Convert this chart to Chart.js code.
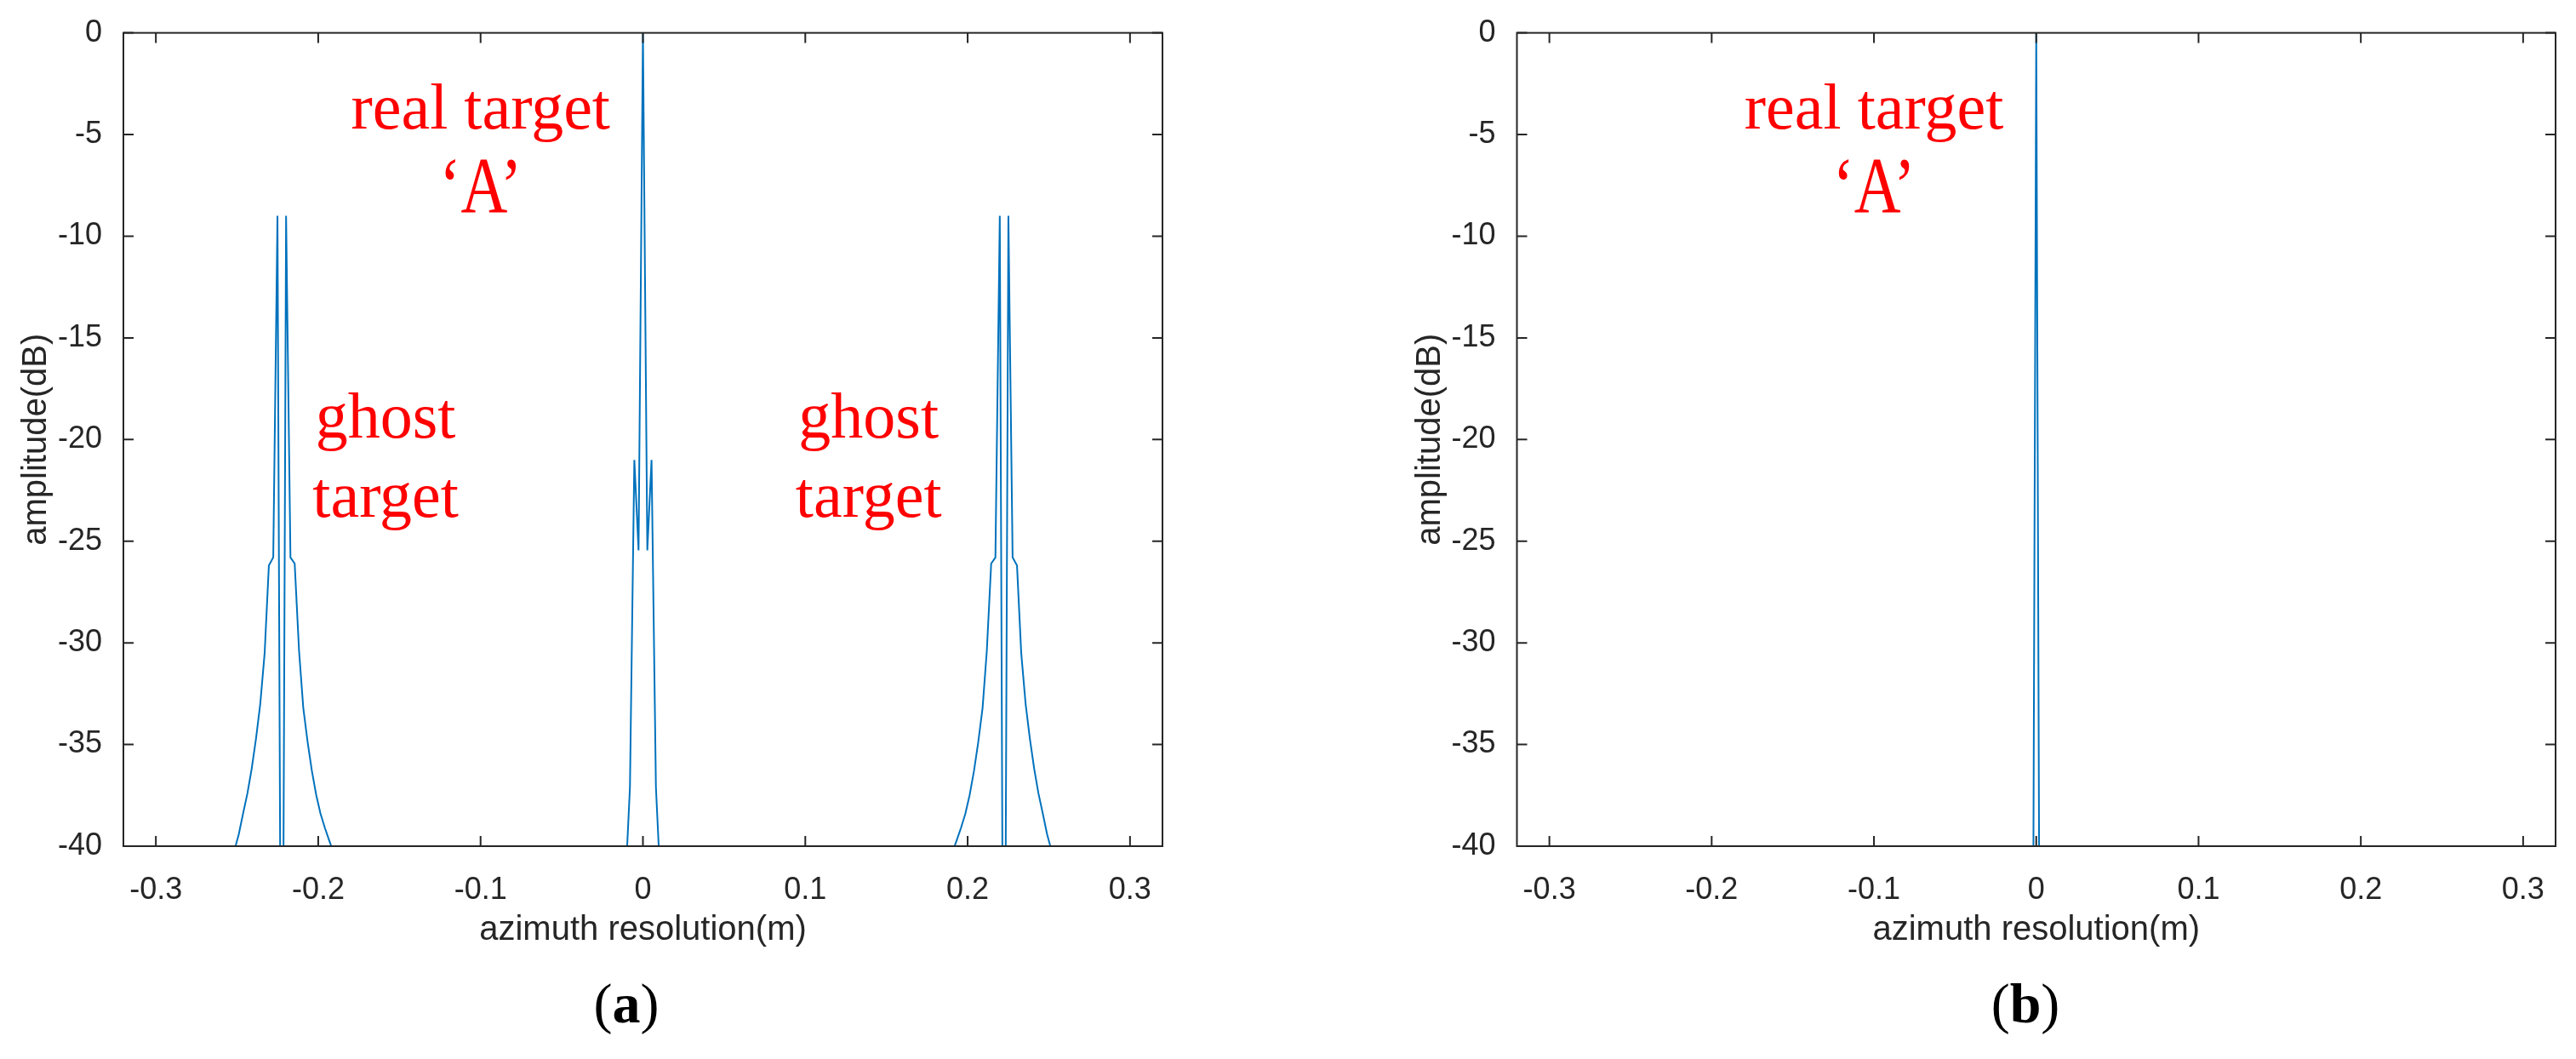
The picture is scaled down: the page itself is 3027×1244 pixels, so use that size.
<!DOCTYPE html>
<html>
<head>
<meta charset="utf-8">
<title>Azimuth profile - real and ghost targets</title>
<script src="https://cdn.jsdelivr.net/npm/chart.js@4.4.1/dist/chart.umd.min.js"></script>
<style>
  html, body { margin: 0; padding: 0; background: #ffffff; }
  #page { position: relative; width: 3027px; height: 1244px; overflow: hidden; background: #ffffff; }
  #page canvas { position: absolute; top: 0; }
  .caption {
    position: absolute;
    top: 1146px;
    width: 200px;
    text-align: center;
    font-family: 'Liberation Serif', 'Times New Roman', serif;
    font-size: 66px;
    line-height: 66px;
    color: #000000;
  }
</style>
</head>
<body>
<div id="page">
  <canvas id="chart-a" width="1513" height="1244" style="left:0px"></canvas>
  <canvas id="chart-b" width="1514" height="1244" style="left:1513px"></canvas>
  <div class="caption" style="left:636px">(<b>a</b>)</div>
  <div class="caption" style="left:2280px">(<b>b</b>)</div>
</div>

<script>
// ---- axis ticks (same for both panels) ----
const xTicks = [-0.3, -0.2, -0.1, 0, 0.1, 0.2, 0.3];
const yTicks = [0, -5, -10, -15, -20, -25, -30, -35, -40];
const xRange = [-0.32, 0.32];
const yRange = [-40, 0];

// ---- panel (a): ghost target on the left ----
const ghostLeftX = [-0.2542, -0.2516, -0.2489, -0.2463, -0.2436, -0.2410, -0.2383, -0.2357, -0.2330,
  -0.2304, -0.2277, -0.2251, -0.2224, -0.2198, -0.2171, -0.2145, -0.2118, -0.2092, -0.2065,
  -0.2039, -0.2012, -0.1986, -0.1959, -0.1933, -0.1906, -0.1880];
const ghostLeftDb = [-41.0, -40.2, -39.4, -38.4, -37.4, -36.2, -34.7, -33.0, -30.5,
  -26.2, -25.8, -9.0, -60.0, -9.0, -25.8, -26.1, -30.4, -33.2, -34.9,
  -36.3, -37.5, -38.4, -39.1, -39.7, -40.3, -41.0];

// ---- panel (a): real target 'A' in the middle ----
const realX = [-0.0133, -0.0106, -0.0080, -0.0053, -0.0027, 0, 0.0027, 0.0053, 0.0080, 0.0106, 0.0133];
const realDb = [-48.0, -41.5, -37.1, -21.0, -25.45, 0, -25.45, -21.0, -37.1, -41.5, -48.0];

// ---- panel (a): ghost target on the right ----
const ghostRightX = [0.1880, 0.1906, 0.1933, 0.1959, 0.1986, 0.2012, 0.2039, 0.2065, 0.2092,
  0.2118, 0.2145, 0.2171, 0.2198, 0.2224, 0.2251, 0.2277, 0.2304, 0.2330, 0.2357,
  0.2383, 0.2410, 0.2436, 0.2463, 0.2489, 0.2516, 0.2542];
const ghostRightDb = [-41.0, -40.3, -39.7, -39.1, -38.4, -37.5, -36.3, -34.9, -33.2,
  -30.4, -26.1, -25.8, -9.0, -60.0, -9.0, -25.8, -26.2, -30.5, -33.0,
  -34.7, -36.2, -37.4, -38.4, -39.4, -40.2, -41.0];

// ---- panel (b): only the real target is left ----
const focusedX = [-0.0053, -0.0027, 0, 0.0027, 0.0053];
const focusedDb = [-80.0, -62.0, 0, -62.0, -80.0];

// ---- red text labels, placed in data coordinates like MATLAB text() ----
const labelsA = [
  { text: 'real target', x: -0.1, y: -4.72 },
  { text: '\u2018A\u2019', x: -0.1, y: -8.81, stretch: 1.22 },
  { text: 'ghost', x: -0.1585, y: -19.9 },
  { text: 'target', x: -0.1585, y: -23.8 },
  { text: 'ghost', x: 0.139, y: -19.9 },
  { text: 'target', x: 0.139, y: -23.8 }
];
const labelsB = [
  { text: 'real target', x: -0.1, y: -4.72 },
  { text: '\u2018A\u2019', x: -0.1, y: -8.81, stretch: 1.22 }
];

const AXIS_COLOR = '#262626';
const LINE_COLOR = '#0072BD';
const SANS = "'Liberation Sans', Arial, Helvetica, sans-serif";
const SERIF = "'Liberation Serif', 'Times New Roman', serif";
const TICK_LEN = 12;

const toPoints = (xs, ys) => xs.map((x, i) => ({ x: x, y: ys[i] }));

// MATLAB style box with inward ticks on all four sides
const boxAxes = {
  id: 'boxAxes',
  afterDatasetsDraw(chart) {
    const { ctx, chartArea: a } = chart;
    const xs = chart.scales.x;
    const ys = chart.scales.y;
    ctx.save();
    ctx.strokeStyle = AXIS_COLOR;
    ctx.lineWidth = 2;
    ctx.beginPath();
    xTicks.forEach(v => {
      const px = xs.getPixelForValue(v);
      ctx.moveTo(px, a.bottom); ctx.lineTo(px, a.bottom - TICK_LEN);
      ctx.moveTo(px, a.top); ctx.lineTo(px, a.top + TICK_LEN);
    });
    yTicks.forEach(v => {
      const py = ys.getPixelForValue(v);
      ctx.moveTo(a.left, py); ctx.lineTo(a.left + TICK_LEN, py);
      ctx.moveTo(a.right, py); ctx.lineTo(a.right - TICK_LEN, py);
    });
    ctx.stroke();
    ctx.strokeRect(a.left, a.top, a.right - a.left, a.bottom - a.top);
    ctx.restore();
  }
};

// red annotations
const redLabels = {
  id: 'redLabels',
  afterDatasetsDraw(chart, args, opts) {
    const { ctx } = chart;
    const xs = chart.scales.x;
    const ys = chart.scales.y;
    ctx.save();
    ctx.fillStyle = '#ff0000';
    ctx.font = '76px ' + SERIF;
    ctx.textAlign = 'center';
    ctx.textBaseline = 'alphabetic';
    (opts.items || []).forEach(item => {
      const px = xs.getPixelForValue(item.x);
      const py = ys.getPixelForValue(item.y);
      ctx.save();
      ctx.translate(px, py);
      if (item.stretch) ctx.scale(1, item.stretch);
      ctx.fillText(item.text, 0, 0);
      ctx.restore();
    });
    ctx.restore();
  }
};

function makeChart(canvasId, points, labels, padLeft, padRight) {
  return new Chart(document.getElementById(canvasId), {
    type: 'line',
    data: {
      datasets: [{
        data: points,
        borderColor: LINE_COLOR,
        borderWidth: 2,
        pointRadius: 0,
        tension: 0,
        fill: false,
        clip: 0
      }]
    },
    options: {
      responsive: false,
      animation: false,
      devicePixelRatio: 1,
      events: [],
      layout: { padding: { left: padLeft, right: padRight, top: 36, bottom: 127 } },
      plugins: {
        legend: { display: false },
        tooltip: { enabled: false },
        redLabels: { items: labels }
      },
      scales: {
        x: {
          type: 'linear',
          min: xRange[0],
          max: xRange[1],
          afterBuildTicks: axis => { axis.ticks = xTicks.map(v => ({ value: v })); },
          afterFit: axis => { axis.height = 123; },
          grid: { display: false },
          border: { display: false },
          ticks: {
            autoSkip: false,
            maxRotation: 0,
            padding: 22,
            color: AXIS_COLOR,
            font: { family: SANS, size: 36 },
            callback: v => String(v)
          },
          title: {
            display: true,
            text: 'azimuth resolution(m)',
            color: AXIS_COLOR,
            font: { family: SANS, size: 40, lineHeight: 1.2 },
            padding: { top: 0, bottom: 0 }
          }
        },
        y: {
          type: 'linear',
          min: yRange[0],
          max: yRange[1],
          afterBuildTicks: axis => { axis.ticks = yTicks.map(v => ({ value: v })); },
          afterFit: axis => { axis.width = 145; },
          grid: { display: false },
          border: { display: false },
          ticks: {
            autoSkip: false,
            padding: 17,
            color: AXIS_COLOR,
            font: { family: SANS, size: 36 },
            callback: v => String(v)
          },
          title: {
            display: true,
            text: 'amplitude(dB)',
            color: AXIS_COLOR,
            font: { family: SANS, size: 40, lineHeight: 1.2 },
            padding: { top: 19, bottom: 0 }
          }
        }
      }
    },
    plugins: [boxAxes, redLabels]
  });
}

const pointsA = toPoints(ghostLeftX, ghostLeftDb)
  .concat(toPoints(realX, realDb))
  .concat(toPoints(ghostRightX, ghostRightDb));
const pointsB = toPoints(focusedX, focusedDb);

makeChart('chart-a', pointsA, labelsA, 0, 147);
makeChart('chart-b', pointsB, labelsB, 124.5, 24);
</script>
</body>
</html>
